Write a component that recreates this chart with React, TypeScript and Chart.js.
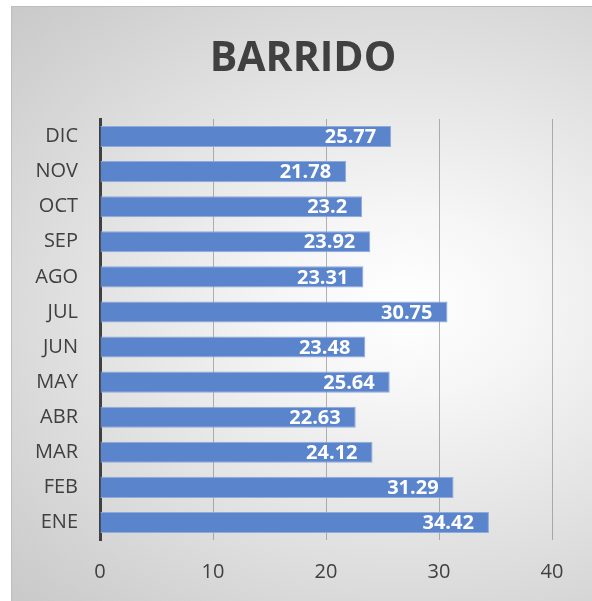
import React, { useEffect, useRef } from "react";
import { Chart, registerables } from "chart.js";

Chart.register(...registerables);

const months = ["ENE", "FEB", "MAR", "ABR", "MAY", "JUN", "JUL", "AGO", "SEP", "OCT", "NOV", "DIC"];
const values = [34.42, 31.29, 24.12, 22.63, 25.64, 23.48, 30.75, 23.31, 23.92, 23.2, 21.78, 25.77];
const titleText = "BARRIDO";
const xMin = 0;
const xMax = 40;
const xStep = 10;

const FONT = "'Open Sans', 'Noto Sans', sans-serif";

const labelPlugin = {
  id: "barLabels",
  afterDraw(chart: any) {
    const ctx = chart.ctx;
    const meta = chart.getDatasetMeta(0);
    ctx.save();
    ctx.fillStyle = "#ffffff";
    ctx.font = `bold 20px ${FONT}`;
    ctx.textAlign = "right";
    ctx.textBaseline = "middle";
    meta.data.forEach((bar: any, i: number) => {
      const v = chart.data.datasets[0].data[i];
      ctx.fillText(String(v), bar.x - 15, bar.y + 1);
    });
    ctx.restore();
  },
};

const titlePlugin = {
  id: "centerTitle",
  afterDraw(chart: any) {
    const ctx = chart.ctx;
    ctx.save();
    ctx.fillStyle = "#404040";
    ctx.font = `bold 41px ${FONT}`;
    ctx.textAlign = "center";
    ctx.textBaseline = "middle";
    ctx.fillText(titleText, chart.width / 2 + 1, 52);
    ctx.restore();
  },
};

export default function App() {
  const ref = useRef<HTMLCanvasElement | null>(null);
  useEffect(() => {
    if (!ref.current) return;
    const chart = new Chart(ref.current, {
      type: "bar",
      data: {
        labels: months,
        datasets: [
          {
            data: values,
            backgroundColor: "#5A84CB",
            borderColor: "#8FAADC",
            borderWidth: 1,
            barPercentage: 0.6,
            categoryPercentage: 1,
          },
        ],
      },
      options: {
        indexAxis: "y",
        animation: false,
        responsive: false,
        layout: { padding: { left: 0, right: 40, top: 112, bottom: 0 } },
        plugins: {
          legend: { display: false },
          tooltip: { enabled: false },
          title: { display: false },
        },
        scales: {
          x: {
            min: xMin,
            max: xMax,
            z: 1,
            ticks: {
              stepSize: xStep,
              color: "#404040",
              font: { family: FONT, size: 20 },
              padding: 20,
            },
            grid: {
              drawTicks: false,
              color: (c: any) => (c.tick && c.tick.value === 0 ? "rgba(0,0,0,0)" : "rgba(120,120,120,0.55)"),
              lineWidth: 1,
            },
            border: { display: false },
            afterFit: (s: any) => {
              s.height = 61;
            },
          },
          y: {
            reverse: true,
            z: 1,
            ticks: {
              color: "#404040",
              font: { family: FONT, size: 20 },
              padding: 22,
            },
            grid: { display: false, drawTicks: false },
            border: { display: true, color: "#404040", width: 3 },
            afterFit: (s: any) => {
              s.width = 88;
            },
          },
        },
      },
      plugins: [labelPlugin, titlePlugin],
    } as any);
    return () => chart.destroy();
  }, []);

  return (
    <div style={{ position: "absolute", left: 0, top: 0, width: 592, height: 601, overflow: "hidden", background: "#ffffff" }}>
      <div
        style={{
          position: "absolute",
          left: 11,
          top: 6,
          width: 581,
          height: 595,
          boxSizing: "border-box",
          borderLeft: "1px solid #bdbdbd",
          borderTop: "1px solid #bdbdbd",
          background: "radial-gradient(ellipse farthest-corner at 68% 50%, #ffffff 0%, #f6f6f6 22%, #c9c9c9 100%)",
        }}
      >
        <canvas ref={ref} width={580} height={594} style={{ position: "absolute", left: 0, top: 0, width: 580, height: 594 }} />
      </div>
    </div>
  );
}
